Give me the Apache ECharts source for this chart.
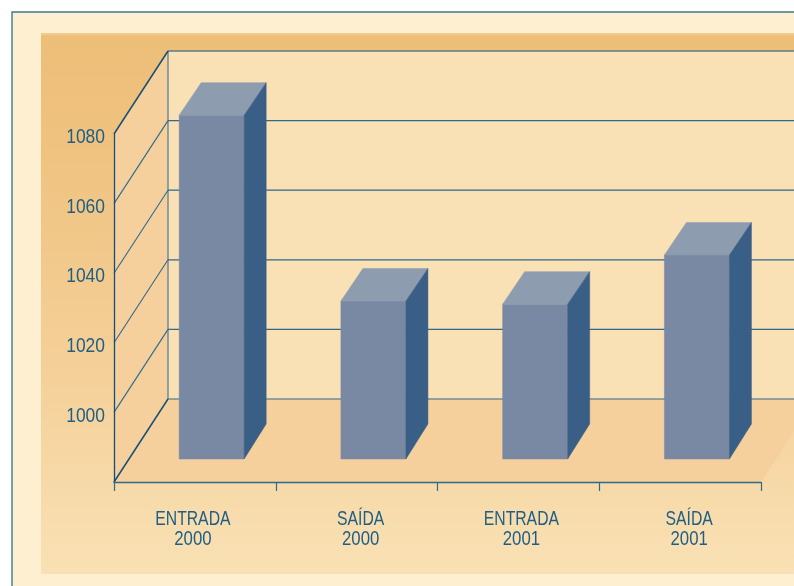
<!DOCTYPE html>
<html><head><meta charset="utf-8">
<style>html,body{margin:0;padding:0;background:#fff}#c{width:794px;height:586px}</style>
<script src="https://cdn.jsdelivr.net/npm/echarts@6/dist/echarts.min.js"></script>
</head><body><div id="c"></div>
<script>
const categories = ['ENTRADA\n2000', 'SAÍDA\n2000', 'ENTRADA\n2001', 'SAÍDA\n2001'];
const values = [1078.8, 1025.4, 1024.5, 1038.6];
const yTicks = [980, 1000, 1020, 1040, 1060, 1080];

const INK = '#1F5E85', LINE = '#2E6A8C', DARK = '#144E78';
const WALL = [54, -83], BAR_SHIFT = [16.8, -23], BAR_DEPTH = [22, -32.5, -35];
const FONT = '"Liberation Sans",Arial,sans-serif';
const labelNudge = [-2, 4, 3, 9];

const chart = echarts.init(document.getElementById('c'), null, {renderer:'canvas'});

function poly(points, fill){
  return {type:'polygon', shape:{points}, style:{fill, stroke:fill, lineWidth:0.5}, silent:true};
}
function seg(a, b, w, col){
  return {type:'line', shape:{x1:a[0],y1:a[1],x2:b[0],y2:b[1]}, style:{stroke:col||LINE, lineWidth:w||1, fill:null}, silent:true};
}
function txt(text, x, y, align, sx){
  return {type:'text', x, y, scaleX:sx, silent:true,
    style:{text, fill:INK, font:'21px '+FONT, align, verticalAlign:'middle'}};
}
function renderWalls(params, api){
  const c = params.coordSys;
  const l=c.x, r=c.x+c.width, t=c.y, b=c.y+c.height;
  const dx=WALL[0], dy=WALL[1];
  return {type:'group', children:[
    poly([[l+dx,t+dy],[r+dx,t+dy],[r+dx,b+dy],[l+dx,b+dy]], '#F9E0B5'),
    poly([[l,t],[l+dx,t+dy],[l+dx,b+dy],[l,b]], '#F6D09C'),
    poly([[l,b],[r,b],[r+dx,b+dy],[l+dx,b+dy]], '#F6D09C'),
    seg([l+dx,t+dy],[l+dx,b+dy])
  ]};
}
function renderGrid(params, api){
  const c = params.coordSys;
  const v = api.value(1);
  const y = api.coord([0, v])[1];
  const l=c.x, r=c.x+c.width;
  const dx=WALL[0], dy=WALL[1];
  const edge = v===yTicks[0] || v===yTicks[yTicks.length-1];
  return {type:'group', children:[
    seg([l,y],[l+dx,y+dy], edge?1.5:1.1, edge?DARK:LINE),
    seg([l+dx,y+dy],[r+dx,y+dy], 1.2, v===yTicks[yTicks.length-1]?DARK:LINE)
  ]};
}
function renderBar(params, api){
  const i = api.value(0);
  const top = api.coord([i, api.value(1)]);
  const base = api.coord([i, yTicks[0]]);
  const w = api.size([1,0])[0]*0.402;
  const sx=BAR_SHIFT[0], sy=BAR_SHIFT[1], dx=BAR_DEPTH[0], dy=BAR_DEPTH[1], dyb=BAR_DEPTH[2];
  const x0=top[0]+sx-w/2, x1=x0+w, yt=top[1]+sy, yb=base[1]+sy;
  return {type:'group', children:[
    poly([[x0,yt],[x1,yt],[x1,yb],[x0,yb]], '#7989A3'),
    poly([[x0,yt],[x1,yt],[x1+dx,yt+dy],[x0+dx,yt+dy]], '#8D9CAF'),
    poly([[x1,yt],[x1+dx,yt+dy],[x1+dx,yb+dyb],[x1,yb]], '#3A5F87')
  ]};
}
function renderYLabel(params, api){
  const v = api.value(1);
  if (v===yTicks[0]) return {type:'group', children:[]};
  const p = api.coord([0, v]);
  return txt(String(v), params.coordSys.x-9, p[1]+3.5, 'right', 0.83);
}
function renderXLabel(params, api){
  const i = api.value(0);
  const p = api.coord([i, yTicks[0]]);
  const lines = categories[i].split('\n');
  const x = p[0]+labelNudge[i];
  return {type:'group', children:[
    txt(lines[0], x, p[1]+37.5, 'center', 0.75),
    txt(lines[1], x, p[1]+57, 'center', 0.8)
  ]};
}

chart.setOption({
  animation:false,
  backgroundColor:'#ffffff',
  graphic:[
    {type:'rect', z:-10, shape:{x:12,y:12,width:800,height:600},
     style:{fill:'#FEEFD0', stroke:'#3F7792', lineWidth:1.4}, silent:true},
    {type:'rect', z:-9, shape:{x:41,y:33,width:770,height:541},
     style:{fill:{type:'linear',x:0,y:0,x2:0,y2:1,colorStops:[
       {offset:0,color:'#F5D09A'},{offset:0.006,color:'#EDBE78'},
       {offset:0.2,color:'#EFC27F'},{offset:0.65,color:'#F5D19A'},{offset:1,color:'#F9E1B5'}]}}, silent:true}
  ],
  grid:{left:114, width:647, top:134, height:348, containLabel:false},
  xAxis:{
    type:'category', z:5,
    data:categories,
    boundaryGap:true,
    axisLine:{show:true, lineStyle:{color:LINE, width:1.3}},
    axisTick:{show:true, length:9, alignWithLabel:false, lineStyle:{color:LINE, width:1.2}},
    axisLabel:{show:false},
    splitLine:{show:false}
  },
  yAxis:{
    type:'value', z:5, min:yTicks[0], max:yTicks[yTicks.length-1], interval:20,
    axisLine:{show:true, lineStyle:{color:DARK, width:1.3}},
    axisTick:{show:false},
    splitLine:{show:false},
    axisLabel:{show:false}
  },
  series:[
    {type:'custom', z:1, coordinateSystem:'cartesian2d', renderItem:renderWalls, data:[[0,yTicks[0]]], silent:true},
    {type:'custom', z:2, coordinateSystem:'cartesian2d', renderItem:renderGrid, data:yTicks.map(v=>[0,v]), silent:true},
    {type:'custom', z:3, coordinateSystem:'cartesian2d', renderItem:renderBar, data:values.map((v,i)=>[i,v]), silent:true},
    {type:'custom', z:6, coordinateSystem:'cartesian2d', renderItem:renderYLabel, data:yTicks.map(v=>[0,v]), silent:true},
    {type:'custom', z:6, coordinateSystem:'cartesian2d', renderItem:renderXLabel, data:categories.map((c,i)=>[i,yTicks[0]]), silent:true}
  ]
});
</script></body></html>
